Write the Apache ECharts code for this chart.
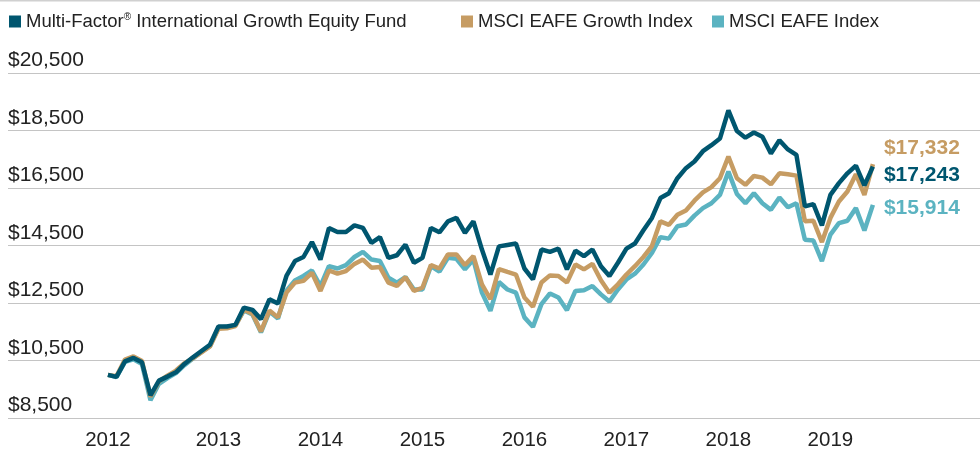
<!DOCTYPE html>
<html>
<head>
<meta charset="utf-8">
<script src="https://cdn.jsdelivr.net/npm/echarts@6/dist/echarts.min.js"></script>
<style>
  html, body { margin: 0; padding: 0; background: #fff; }
</style>
</head>
<body>
<!-- chart container, same size as the window -->
<div id="main" style="width:980px;height:451px;"></div>
<script>
// month index: 0 = Dec 2011 ... 90 = Jun 2019
const fundName = 'Multi-Factor® International Growth Equity Fund';
const growthName = 'MSCI EAFE Growth Index';
const eafeName = 'MSCI EAFE Index';

const fundValues = [
  10000, 9930, 10470, 10590, 10440, 9290, 9800, 9940, 10090, 10380, 10610, 10830,
  11050, 11680, 11680, 11740, 12340, 12260, 11940, 12630, 12480, 13440, 13960, 14100,
  14620, 14010, 15110, 14970, 14970, 15200, 15110, 14590, 14790, 14070, 14160, 14530,
  13900, 14070, 15110, 14960, 15340, 15460, 14940, 15340, 14360, 13490, 14470, 14520,
  14570, 13700, 13320, 14360, 14280, 14390, 13670, 14320, 14130, 14360, 13780, 13440,
  13900, 14390, 14570, 15030, 15460, 16150, 16320, 16840, 17190, 17420, 17780, 17990,
  18220, 19200, 18480, 18250, 18430, 18280, 17700, 18160, 17840, 17650, 15860, 15940,
  15200, 16260, 16670, 17010, 17280, 16590, 17243
];
const growthValues = [
  10000, 9950, 10530, 10640, 10480, 9240, 9770, 9970, 10150, 10410, 10580, 10780,
  10990, 11600, 11620, 11700, 12270, 12130, 11510, 12240, 12000, 12860, 13210, 13270,
  13550, 12920, 13630, 13520, 13610, 13860, 14010, 13730, 13750, 13210, 13090, 13400,
  12920, 13030, 13820, 13700, 14190, 14190, 13820, 14130, 13150, 12630, 13680, 13580,
  13490, 12690, 12370, 13210, 13460, 13440, 13210, 13840, 13670, 13860, 13290, 12860,
  13150, 13490, 13780, 14100, 14480, 15340, 15220, 15570, 15720, 16060, 16350, 16530,
  16840, 17590, 16840, 16610, 16920, 16860, 16630, 17010, 16980, 16930, 15340, 15360,
  14620, 15460, 16030, 16380, 16980, 16260, 17332
];
const eafeValues = [
  10000, 9920, 10450, 10540, 10380, 9120, 9690, 9890, 10060, 10340, 10570, 10800,
  11000, 11640, 11670, 11730, 12240, 12100, 11480, 12200, 11960, 12930, 13280, 13440,
  13630, 13090, 13780, 13700, 13820, 14100, 14280, 14010, 13960, 13380, 13210, 13400,
  12970, 12970, 13780, 13590, 14070, 14040, 13670, 14010, 12860, 12230, 13230, 12970,
  12860, 12000, 11670, 12460, 12830, 12690, 12250, 12920, 12940, 13090, 12800, 12550,
  12970, 13320, 13520, 13840, 14240, 14790, 14740, 15170, 15230, 15540, 15800, 15970,
  16260, 17070, 16290, 15970, 16320, 15970, 15740, 16170, 15830, 15970, 14700, 14670,
  13960, 14880, 15280, 15360, 15800, 15020, 15914
];

// year tick labels (month index where each label sits)
const yearTicks = [0, 13, 25, 37, 49, 61, 73, 85];
const yearLabels = ['2012', '2013', '2014', '2015', '2016', '2017', '2018', '2019'];

const FONT = 'Liberation Sans, Arial, sans-serif';
const colors = { fund: '#00566F', growth: '#C69C63', eafe: '#5BB3C1' };

function pairs(values) {
  return values.map((v, i) => [i, v]);
}
function money(v) {
  return '$' + v.toLocaleString('en-US');
}

var myChart = echarts.init(document.getElementById('main'));

const legendText = {
  fontFamily: FONT,
  fontSize: 18.5,
  color: '#222',
  rich: {
    sup: { fontFamily: FONT, fontSize: 10, verticalAlign: 'top', color: '#222' }
  }
};

const option = {
  animation: false,
  textStyle: { fontFamily: FONT },
  graphic: [
    { type: 'rect', shape: { x: 0, y: 0, width: 980, height: 1.5 }, style: { fill: '#d0d0d0' } }
  ],
  legend: [
    {
      data: [fundName], left: 4, top: 7, icon: 'rect', itemWidth: 12, itemHeight: 12, itemGap: 0,
      textStyle: legendText,
      formatter: name => name.replace('®', '{sup|®}')
    },
    {
      data: [growthName], left: 456, top: 7, icon: 'rect', itemWidth: 12, itemHeight: 12,
      textStyle: legendText
    },
    {
      data: [eafeName], left: 707, top: 7, icon: 'rect', itemWidth: 12, itemHeight: 12,
      textStyle: legendText
    }
  ],
  grid: { left: 8, right: 0, top: 73, bottom: 30 },
  xAxis: {
    type: 'value',
    min: -11.76,
    max: 102.6,
    axisLine: { show: false },
    axisTick: { show: false },
    splitLine: { show: false },
    axisLabel: {
      customValues: yearTicks,
      formatter: v => yearLabels[yearTicks.indexOf(v)] || '',
      fontFamily: FONT,
      fontSize: 20.5,
      color: '#222',
      margin: 12
    }
  },
  yAxis: {
    type: 'value',
    min: 8500,
    max: 20500,
    interval: 2000,
    axisLine: { show: false },
    axisTick: { show: false },
    splitLine: { lineStyle: { color: '#c4c4c4', width: 1.2 } },
    axisLabel: {
      inside: true,
      align: 'left',
      verticalAlign: 'bottom',
      margin: 0,
      padding: [0, 0, 2, 0],
      fontFamily: FONT,
      fontSize: 21,
      color: '#222',
      formatter: v => money(v)
    }
  },
  series: [
    {
      name: eafeName, type: 'line', data: pairs(eafeValues), showSymbol: false,
      color: colors.eafe, lineStyle: { width: 4.5, color: colors.eafe },
      endLabel: {
        show: true, formatter: p => money(p.value[1]), color: colors.eafe,
        fontFamily: FONT, fontSize: 21, fontWeight: 'bold', distance: 5, offset: [6, 3]
      }
    },
    {
      name: growthName, type: 'line', data: pairs(growthValues), showSymbol: false,
      color: colors.growth, lineStyle: { width: 4.5, color: colors.growth },
      endLabel: {
        show: true, formatter: p => money(p.value[1]), color: colors.growth,
        fontFamily: FONT, fontSize: 21, fontWeight: 'bold', distance: 5, offset: [6, -16]
      }
    },
    {
      name: fundName, type: 'line', data: pairs(fundValues), showSymbol: false,
      color: colors.fund, lineStyle: { width: 4.5, color: colors.fund },
      endLabel: {
        show: true, formatter: p => money(p.value[1]), color: colors.fund,
        fontFamily: FONT, fontSize: 21, fontWeight: 'bold', distance: 5, offset: [6, 9]
      }
    }
  ]
};

myChart.setOption(option);

window.addEventListener('resize', function () {
  myChart.resize();
});
</script>
</body>
</html>
